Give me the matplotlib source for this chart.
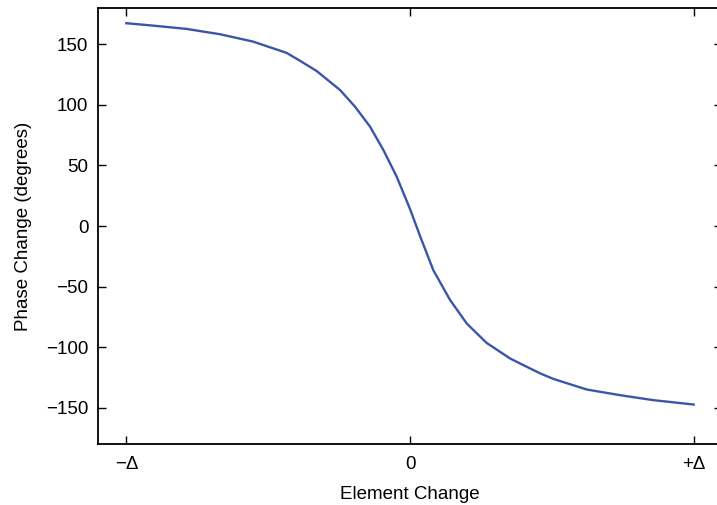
import matplotlib
matplotlib.use("Agg")
import matplotlib.pyplot as plt

# Data (x in units of Delta, y in degrees)
x_vals = [-1.0, -0.905, -0.788, -0.670, -0.553, -0.435, -0.388, -0.329, -0.247,
          -0.194, -0.141, -0.094, -0.047, 0.0, 0.035, 0.082, 0.141, 0.2,
          0.270, 0.353, 0.388, 0.459, 0.506, 0.623, 0.741, 0.858, 1.0]
y_vals = [167.5, 165.5, 162.8, 158.4, 152.3, 143.0, 136.5, 128.0, 112.4,
          98.6, 82.1, 62.8, 40.8, 14.0, -8.0, -36.4, -61.0, -80.5,
          -96.5, -109.4, -113.5, -121.7, -126.3, -135.0, -139.7, -143.8, -147.4]

x_ticks = [-1, 0, 1]
x_ticklabels = ["\u2212\u0394", "0", "+\u0394"]
y_ticks = [-150, -100, -50, 0, 50, 100, 150]

plt.rcParams['font.family'] = ['Liberation Sans', 'DejaVu Sans']
plt.rcParams['axes.unicode_minus'] = True

fig = plt.figure(figsize=(7.17, 5.05), dpi=100)
ax = fig.add_axes([0.1367, 0.1208, 0.8703, 0.8632])

ax.plot(x_vals, y_vals, color='#3b55a9', lw=1.7, solid_joinstyle='round')

ax.set_xlim(-1.1, 1.1)
ax.set_ylim(-180, 180)
ax.set_xticks(x_ticks)
ax.set_xticklabels(x_ticklabels)
ax.set_yticks(y_ticks)
ax.set_yticklabels([("\u2212" + str(abs(v))) if v < 0 else str(v) for v in y_ticks])

ax.tick_params(axis='both', direction='in', length=5.5, width=1.0, labelsize=13.5,
               top=True, right=True, colors='black')
ax.tick_params(axis='x', pad=9)
ax.tick_params(axis='y', pad=7)
for s in ax.spines.values():
    s.set_linewidth(1.3)

ax.set_xlabel("Element Change", fontsize=13.5, labelpad=9)
ax.set_ylabel("Phase Change (degrees)", fontsize=13.5, labelpad=10)

fig.savefig("out.png", dpi=100)
